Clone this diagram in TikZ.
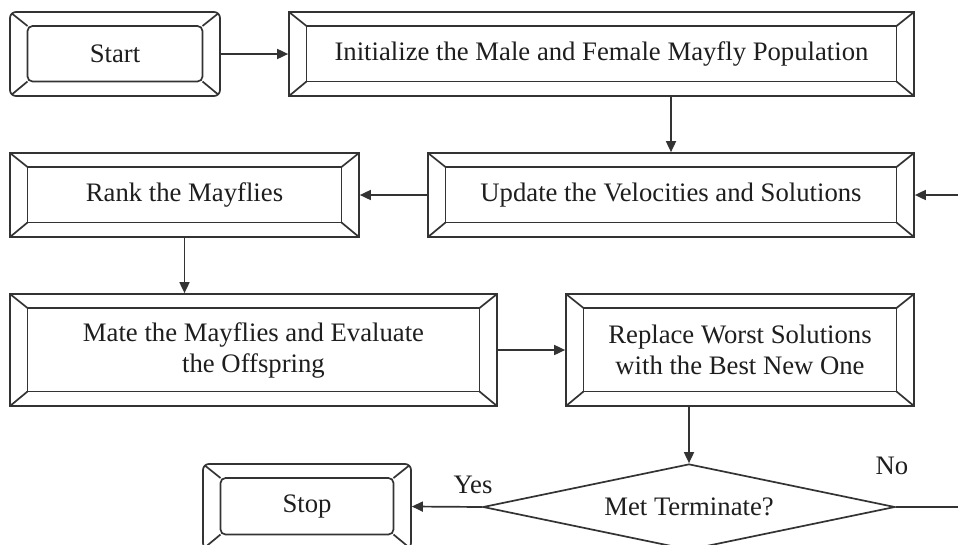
\documentclass[tikz,border=0pt]{standalone}
\usepackage{fontspec}
\setmainfont{Liberation Serif}
\usetikzlibrary{shapes.geometric, arrows.meta, calc}
\definecolor{ln}{HTML}{333333}
\definecolor{tx}{HTML}{1E1E1E}
\newcommand\bevelpic[1]{%
  \draw[base,#1] ([shift={(17.5pt,-14pt)}]path picture bounding box.north west) rectangle ([shift={(-17.5pt,14.5pt)}]path picture bounding box.south east);
  \draw[base,sharp corners] (path picture bounding box.north west) -- ++(17.5pt,-14pt)
     (path picture bounding box.north east) -- ++(-17.5pt,-14pt)
     (path picture bounding box.south west) -- ++(17.5pt,14.5pt)
     (path picture bounding box.south east) -- ++(-17.5pt,14.5pt);
}
\tikzset{
  base/.style={line width=1.7pt, draw=ln},
  txt/.style={text=tx, font=\fontsize{26.7}{31}\selectfont, align=center},
  bevel/.style={base, txt, rectangle, inner sep=0pt, path picture={\bevelpic{sharp corners}}},
  rbevel/.style={base, txt, rectangle, rounded corners=6pt, inner sep=0pt, path picture={\bevelpic{rounded corners=5pt}}},
  arr/.style={base, -{Triangle[length=11pt,width=10pt]}},
}
\begin{document}
\begin{tikzpicture}[x=1pt,y=1pt]
\useasboundingbox (0,0) rectangle (958,-544);
\fill[white] (0,0) rectangle (958,-544);
\clip (0,0) rectangle (958,-544);

\node[rbevel, minimum width=210pt, minimum height=84pt] (start) at (115,-54) {Start};
\node[bevel, minimum width=625pt, minimum height=84pt] (init) at (601.5,-54) {Initialize the Male and Female Mayfly Population};
\node[bevel, minimum width=486pt, minimum height=84pt] (update) at (671,-195) {Update the Velocities and Solutions};
\node[bevel, minimum width=349pt, minimum height=84pt] (rank) at (184.5,-195) {Rank the Mayflies};
\node[bevel, minimum width=487pt, minimum height=112pt] (mate) at (253.5,-350) {Mate the Mayflies and Evaluate\\the Offspring};
\node[bevel, minimum width=348pt, minimum height=112pt] (replace) at (740,-350) {Replace Worst Solutions\\with the Best New One};
\node[rbevel, minimum width=208pt, minimum height=85pt] (stop) at (307,-506.5) {Stop};
\node[diamond, base, txt, aspect=4.8, inner sep=0pt, minimum width=412pt, minimum height=86pt] (dec) at (689,-507) {Met Terminate?};

\node[txt] (yes) at (473,-485) {Yes};
\node[txt] (no) at (892,-466) {No};

\draw[arr] (start.east) -- (init.west);
\draw[arr] (init.south -| update.north) -- (update.north);
\draw[arr] (update.west) -- (rank.east);
\draw[arr] (rank.south) -- (rank.south |- mate.north);
\draw[arr] (mate.east) -- (replace.west);
\draw[arr] (replace.south -| dec.north) -- (dec.north);
\draw[arr] (dec.west) -- (stop.east);
\draw[arr] (dec.east) -- ++(120,0) |- (update.east);
\end{tikzpicture}
\end{document}
